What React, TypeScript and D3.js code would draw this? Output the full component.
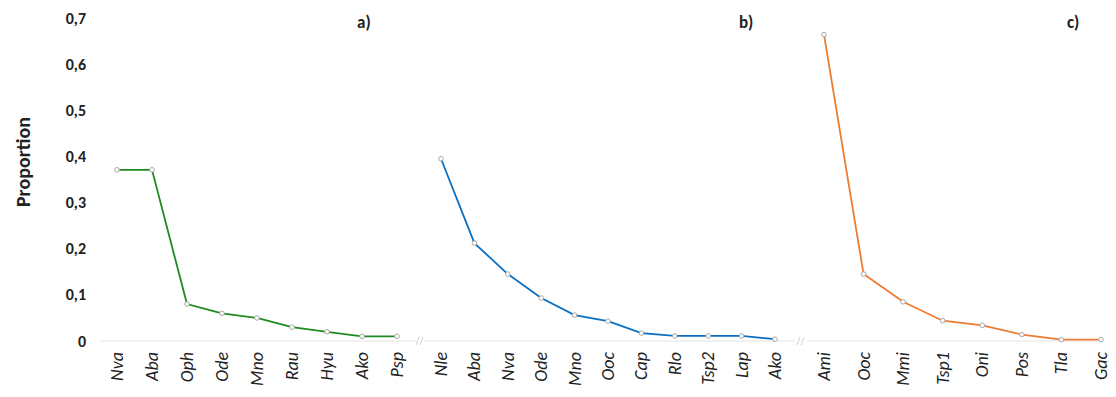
import React from 'react'
import * as d3 from 'd3'

const catsA = ['Nva', 'Aba', 'Oph', 'Ode', 'Mno', 'Rau', 'Hyu', 'Ako', 'Psp']
const valsA = [0.371, 0.371, 0.08, 0.06, 0.05, 0.03, 0.02, 0.01, 0.01]

const catsB = ['Nle', 'Aba', 'Nva', 'Ode', 'Mno', 'Ooc', 'Cap', 'Rlo', 'Tsp2', 'Lap', 'Ako']
const valsB = [0.395, 0.212, 0.145, 0.093, 0.056, 0.043, 0.017, 0.011, 0.011, 0.011, 0.004]

const catsC = ['Ami', 'Ooc', 'Mmi', 'Tsp1', 'Oni', 'Pos', 'Tla', 'Gac']
const valsC = [0.664, 0.145, 0.085, 0.044, 0.034, 0.014, 0.003, 0.003]

const yTicks = [0, 0.1, 0.2, 0.3, 0.4, 0.5, 0.6, 0.7]
const panelLabels = ['a)', 'b)', 'c)']

const W = 1116
const H = 397
const font = "Calibri, Carlito, 'Open Sans', sans-serif"

const panels = [
  { cats: catsA, vals: valsA, range: [117, 397], axis: [100, 415], color: '#1f8a1f', label: panelLabels[0], lx: 357 },
  { cats: catsB, vals: valsB, range: [441, 775], axis: [425, 795], color: '#0a6fc2', label: panelLabels[1], lx: 739 },
  { cats: catsC, vals: valsC, range: [824, 1101], axis: [807, 1102], color: '#ee7b30', label: panelLabels[2], lx: 1067 },
]

const breaks = [420, 801]

export default function App() {
  const y = d3.scaleLinear().domain([0, 0.7]).range([341, 18])
  const fmt = (v: number) => (v === 0 ? '0' : d3.format('.1f')(v).replace('.', ','))

  return (
    <svg width={W} height={H} style={{ position: 'absolute', left: 0, top: 0, background: '#fff' }} fontFamily={font}>
      {/* y axis labels */}
      {yTicks.map((t) => (
        <text key={t} x={86} y={y(t)} dy="0.35em" textAnchor="end" fontSize={16} fontWeight="bold" fill="#222">
          {fmt(t)}
        </text>
      ))}
      <text transform={`translate(30, ${162}) rotate(-90)`} textAnchor="middle" fontSize={20} fontWeight="bold" fill="#222">
        Proportion
      </text>

      {panels.map((p, pi) => {
        const x = d3.scalePoint<string>().domain(p.cats).range(p.range as [number, number])
        const data = p.cats.map((c, i) => ({ c, v: p.vals[i] }))
        const line = d3
          .line<{ c: string; v: number }>()
          .x((d) => x(d.c) as number)
          .y((d) => y(d.v))
        return (
          <g key={pi}>
            <line x1={p.axis[0]} x2={p.axis[1]} y1={y(0)} y2={y(0)} stroke="#e3e3e3" strokeWidth={1} />
            <path d={line(data) || ''} fill="none" stroke={p.color} strokeWidth={1.8} />
            {data.map((d) => (
              <circle key={d.c} cx={x(d.c)} cy={y(d.v)} r={2.3} fill="#fff" stroke="#a8a8a8" strokeWidth={1} />
            ))}
            {p.cats.map((c) => (
              <text
                key={c}
                transform={`translate(${(x(c) as number) + 6}, ${352}) rotate(-90)`}
                textAnchor="end"
                fontSize={18}
                fontStyle="italic"
                fill="#222"
              >
                {c}
              </text>
            ))}
            <text x={p.lx} y={22} dy="0.35em" fontSize={17} fontWeight="bold" fill="#222">
              {p.label}
            </text>
          </g>
        )
      })}

      {breaks.map((bx) => (
        <g key={bx} stroke="#cfcfcf" strokeWidth={1}>
          <line x1={bx - 4} y1={y(0) + 4} x2={bx - 1} y2={y(0) - 4} />
          <line x1={bx} y1={y(0) + 4} x2={bx + 3} y2={y(0) - 4} />
        </g>
      ))}
    </svg>
  )
}
